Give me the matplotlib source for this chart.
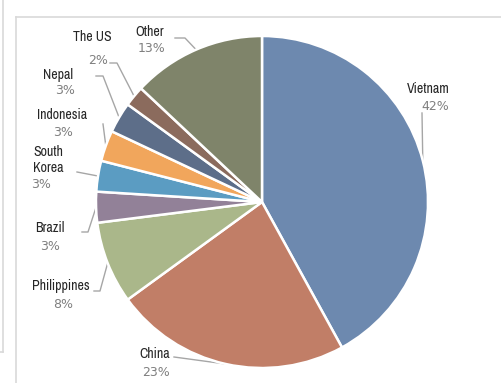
import matplotlib
matplotlib.use("Agg")
import matplotlib.pyplot as plt
from matplotlib import font_manager
import numpy as np

# Share of workers by country of origin
countries = ["Vietnam", "China", "Philippines", "Brazil", "South\nKorea",
             "Indonesia", "Nepal", "The US", "Other"]
shares = [42, 23, 8, 3, 3, 3, 3, 2, 13]
colors = ["#6D89AF", "#C17E67", "#AAB78A", "#928198", "#5B9CC2",
          "#F1A65C", "#5D6E89", "#8B6B5D", "#7F846A"]

W, H = 502, 383
fig = plt.figure(figsize=(W / 100, H / 100), dpi=100)
ax = fig.add_axes([0, 0, 1, 1])


def px(x, y):
    """Convert pixel position (origin top-left) to axes data coords."""
    return x, H - y


# prefer a condensed sans for the category names when one is available
narrow = sorted(
    (f for f in font_manager.findSystemFonts()
     if "narrow" in f.lower() and "bold" not in f.lower()
     and "italic" not in f.lower()),
    key=lambda f: (0 if "liberationsansnarrow-regular" in f.lower() else 1, f))
if narrow:
    name_kw = dict(fontproperties=font_manager.FontProperties(fname=narrow[0],
                                                              size=10))
else:
    name_kw = dict(family=["Liberation Sans", "DejaVu Sans"], fontsize=9)

cx, cy = px(262, 202)
R = 166

wedges, _ = ax.pie(shares, colors=colors, startangle=90, counterclock=False,
                   center=(cx, cy), radius=R,
                   wedgeprops=dict(edgecolor="white", linewidth=1.8))
for w in wedges:
    w.set_zorder(3)

# label name center, percentage center, leader waypoints (pixels)
layout = {
    "Vietnam":     ((428, 89),  (435, 106), [(422, 113)]),
    "China":       ((155, 354), (156, 372), [(174, 357)]),
    "Philippines": ((61, 286),  (63, 305),  [(94, 291), (100, 291)]),
    "Brazil":      ((50, 228),  (50, 246),  [(82, 232), (88, 232)]),
    "South\nKorea": ((48, 160), (41, 184),  [(77, 172)]),
    "Indonesia":   ((62, 115),  (63, 133),  [(103, 124)]),
    "Nepal":       ((58, 75),   (65, 90),   [(96, 76), (103, 76)]),
    "The US":      ((92, 37),   (98, 60),   [(110, 63), (117, 63)]),
    "Other":       ((150, 32),  (152, 49),  [(175, 38), (185, 38)]),
}

for w, name, val in zip(wedges, countries, shares):
    (nx, ny), (qx, qy), pts = layout[name]
    ax.text(*px(nx, ny), name, ha="center", va="center", color="#262626",
            linespacing=1.25, **name_kw)
    ax.text(*px(qx, qy), f"{val}%", ha="center", va="center", fontsize=9,
            family="DejaVu Sans", color="#7F7F7F")
    mid = np.deg2rad((w.theta1 + w.theta2) / 2)
    ex, ey = cx + R * np.cos(mid), cy + R * np.sin(mid)
    xs = [px(*p)[0] for p in pts] + [ex]
    ys = [px(*p)[1] for p in pts] + [ey]
    ax.plot(xs, ys, color="#A6A6A6", linewidth=1, zorder=2)

# panel frame lines
frame = "#D9D9D9"
ax.plot([3.5, 3.5], [H, H - 351.5], color=frame, linewidth=1.2, zorder=1)
ax.plot([0, 3.5], [H - 351.5, H - 351.5], color=frame, linewidth=1.2, zorder=1)
ax.plot([16, 16], [0, H - 16.5], color=frame, linewidth=1.2, zorder=1)
ax.plot([16, W], [H - 16.5, H - 16.5], color=frame, linewidth=1.2, zorder=1)

ax.set_xlim(0, W)
ax.set_ylim(0, H)
ax.set_aspect("auto")
ax.axis("off")

fig.savefig("out.png", dpi=100, facecolor="white")
